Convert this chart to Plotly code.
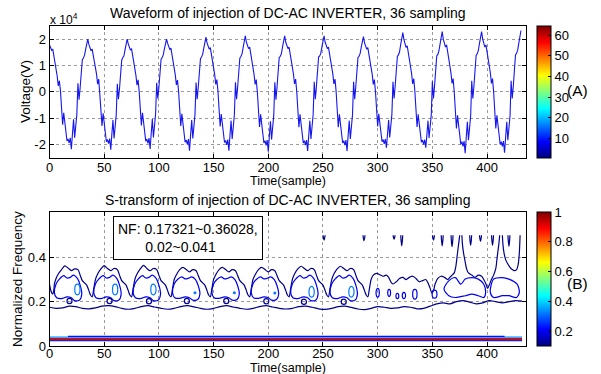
import numpy as np
import plotly.graph_objects as go
from plotly.colors import sample_colorscale

W, H = 601, 374
def px(x): return x / W
def py(y): return (H - y) / H

# ---------------- data: waveform (values in units of 1e4 V), 12 cycles x 36 samples
CYCLES = [
 [1.78,1.68,1.58,1.62,1.40,1.18,0.95,0.60,0.22,0.42,0.05,-0.55,-1.25,-0.80,-1.10,-1.60,-1.87,-1.80,-1.95,-1.75,-2.19,-1.60,-1.05,-1.75,-1.22,-0.85,0.32,-0.30,0.15,0.80,1.22,1.28,1.38,1.60,1.75,2.00],
 [1.80,1.66,1.56,1.62,1.38,1.17,0.98,0.67,0.29,0.48,-0.10,-0.60,-1.30,-0.82,-1.12,-1.62,-1.90,-1.82,-1.97,-1.78,-2.20,-1.62,-1.08,-1.78,-1.25,-0.88,0.30,-0.28,0.12,0.78,1.20,1.30,1.36,1.58,1.78,2.00],
 [1.82,1.70,1.58,1.64,1.40,1.18,0.96,0.62,0.25,0.45,0.00,-0.58,-1.28,-0.80,-1.10,-1.60,-1.88,-1.80,-1.96,-1.76,-2.18,-1.58,-1.04,-1.74,-1.20,-0.84,0.34,-0.26,0.16,0.82,1.24,1.30,1.40,1.62,1.80,2.00],
 [1.84,1.70,1.60,1.66,1.42,1.20,0.98,0.64,0.26,0.44,0.02,-0.60,-1.30,-0.84,-1.14,-1.64,-1.92,-1.84,-2.00,-1.80,-2.24,-1.64,-1.08,-1.78,-1.24,-0.86,0.35,-0.28,0.18,0.84,1.26,1.32,1.42,1.65,1.85,2.08],
 [1.86,1.72,1.62,1.68,1.44,1.22,1.00,0.66,0.28,0.46,0.02,-0.62,-1.32,-0.85,-1.15,-1.65,-1.93,-1.85,-2.02,-1.82,-2.24,-1.66,-1.10,-1.80,-1.26,-0.88,0.36,-0.28,0.18,0.85,1.28,1.34,1.44,1.68,1.88,2.13],
 [1.88,1.74,1.64,1.70,1.45,1.22,1.00,0.66,0.28,0.46,0.00,-0.64,-1.34,-0.86,-1.16,-1.66,-1.95,-1.86,-2.04,-1.84,-2.28,-1.68,-1.12,-1.82,-1.28,-0.90,0.36,-0.30,0.18,0.86,1.30,1.35,1.45,1.70,1.90,2.13],
 [1.88,1.74,1.64,1.70,1.46,1.24,1.02,0.68,0.30,0.48,0.02,-0.64,-1.35,-0.86,-1.16,-1.66,-1.95,-1.86,-2.03,-1.84,-2.25,-1.66,-1.10,-1.80,-1.26,-0.88,0.38,-0.28,0.20,0.88,1.32,1.36,1.46,1.70,1.90,2.13],
 [1.88,1.74,1.64,1.70,1.46,1.24,1.02,0.68,0.30,0.48,0.02,-0.64,-1.35,-0.86,-1.16,-1.66,-1.95,-1.86,-2.03,-1.84,-2.25,-1.66,-1.10,-1.80,-1.26,-0.88,0.38,-0.28,0.20,0.88,1.30,1.35,1.46,1.70,1.88,2.10],
 [1.86,1.72,1.62,1.68,1.44,1.22,1.00,0.66,0.28,0.46,0.00,-0.62,-1.32,-0.84,-1.14,-1.62,-1.90,-1.82,-1.98,-1.80,-2.13,-1.62,-1.08,-1.74,-1.22,-0.86,0.38,-0.26,0.22,0.90,1.34,1.40,1.52,1.78,1.98,2.25],
 [1.98,1.80,1.68,1.75,1.50,1.26,1.04,0.70,0.30,0.50,0.02,-0.62,-1.34,-0.86,-1.16,-1.64,-1.92,-1.84,-2.00,-1.82,-2.13,-1.64,-1.10,-1.76,-1.24,-0.88,0.40,-0.26,0.22,0.92,1.36,1.42,1.55,1.80,2.02,2.29],
 [2.00,1.82,1.70,1.78,1.52,1.28,1.05,0.72,0.32,0.50,0.00,-0.66,-1.40,-0.90,-1.20,-1.70,-2.00,-1.90,-2.08,-1.88,-2.34,-1.72,-1.14,-1.84,-1.30,-0.92,0.42,-0.26,0.22,0.92,1.38,1.44,1.56,1.82,2.04,2.29],
 [2.00,1.82,1.70,1.78,1.52,1.28,1.05,0.72,0.32,0.50,0.00,-0.66,-1.40,-0.90,-1.20,-1.70,-2.00,-1.90,-2.08,-1.88,-2.32,-1.72,-1.14,-1.84,-1.30,-0.92,0.42,-0.26,0.22,0.94,1.40,1.46,1.58,1.84,2.06,2.33],
]
VOLT = [v for c in CYCLES for v in c]
SAMPLES = list(range(len(VOLT)))

X_TICKS = [0, 50, 100, 150, 200, 250, 300, 350, 400]
Y1_TICKS = [-2, -1, 0, 1, 2]
Y1_TEXT = ["-2", "-1", "0", "1", "2"]
Y2_TICKS = [0, 0.2, 0.4]
Y2_TEXT = ["0", "0.2", "0.4"]
CB_A_TICKS = [10, 20, 30, 40, 50, 60]
CB_B_TICKS = [0.2, 0.4, 0.6, 0.8, 1.0]
CB_B_TEXT = ["0.2", "0.4", "0.6", "0.8", "1"]

# ---------------- data: S-transform contour lines (sample, normalized frequency)
LEVEL_OUTER, LEVEL_MID, LEVEL_INNER = 0.11, 0.20, 0.32

OUTER_UPPER = [
 (0,0.28),(1,0.255),(2,0.24),(3,0.235),(4,0.255),(4.5,0.28),(6,0.305),(8,0.325),(11,0.345),(14,0.362),(17,0.352),(20,0.34),(23,0.348),(26,0.345),(28,0.32),(30,0.295),(32,0.285),(34,0.275),(36,0.25),(37.5,0.23),
 (39,0.222),(40.5,0.26),(42,0.30),(44,0.325),(47,0.348),(50,0.363),(53,0.35),(56,0.34),(59,0.35),(62,0.345),(64,0.32),(66,0.295),(68,0.285),(70,0.275),(72,0.25),(73.5,0.23),
 (75,0.222),(76.5,0.26),(78,0.30),(80,0.325),(83,0.348),(86,0.364),(89,0.35),(92,0.34),(95,0.35),(98,0.345),(100,0.32),(102,0.295),(104,0.285),(106,0.275),(108,0.25),(109.5,0.23),
 (111,0.222),(112.5,0.26),(114,0.30),(116,0.322),(119,0.345),(122,0.355),(125,0.345),(128,0.335),(131,0.345),(134,0.34),(136,0.318),(138,0.295),(140,0.285),(142,0.275),(144,0.25),(145.5,0.23),
 (147,0.222),(148.5,0.26),(150,0.30),(152,0.322),(155,0.345),(158,0.355),(161,0.345),(164,0.335),(167,0.345),(170,0.34),(172,0.318),(174,0.295),(176,0.285),(178,0.275),(180,0.25),(181.5,0.23),
 (183,0.222),(184.5,0.26),(186,0.30),(188,0.322),(191,0.345),(194,0.355),(197,0.345),(200,0.335),(203,0.345),(206,0.34),(208,0.318),(210,0.295),(212,0.285),(214,0.275),(216,0.25),(217.5,0.23),
 (219,0.222),(220.5,0.26),(222,0.30),(224,0.325),(227,0.348),(230,0.36),(233,0.35),(236,0.34),(239,0.35),(242,0.345),(244,0.32),(246,0.295),(248,0.285),(250,0.275),(252,0.25),(253.5,0.23),
 (255,0.222),(256.5,0.26),(258,0.30),(260,0.325),(263,0.348),(266,0.36),(269,0.35),(272,0.34),(275,0.35),(278,0.345),(280,0.32),(282,0.295),(284,0.285),(286,0.275),(288,0.25),(289.5,0.23),
 (291,0.222),(292.5,0.26),(294,0.30),(296,0.32),(299,0.328),(302,0.322),(305,0.315),(308,0.32),(310,0.31),(312,0.29),(314,0.28),(317,0.29),(320,0.305),(323,0.31),(326,0.30),
 (329,0.31),(332,0.315),(335,0.305),(338,0.29),(341,0.295),(344,0.30),(346,0.285),(348,0.26),(349.5,0.24),(351,0.25),(352.5,0.28),(355,0.305),(358,0.315),(361,0.31),(364,0.30),
 (366,0.31),(368,0.32),(370,0.33),(371.5,0.36),(372.5,0.40),(373.5,0.44),(374.5,0.48),(375,0.50),(None,None),
 (377,0.50),(377.5,0.46),(378.5,0.42),(380,0.38),(381.5,0.345),(383,0.33),(386,0.32),(389,0.31),(392,0.32),(395,0.315),(397,0.30),(399,0.28),(400.5,0.26),(402,0.275),(404,0.30),(406,0.32),
 (408,0.35),(409,0.39),(410,0.43),(411,0.47),(411.5,0.50),(None,None),
 (414,0.50),(414.5,0.46),(415.5,0.42),(417,0.39),(419,0.37),(421,0.355),(423,0.345),(425,0.34),(427,0.345),(428.5,0.37),(429.5,0.42),(430.2,0.50),
]

OUTER_LOWER = [
 (0,0.175),(6,0.17),(12,0.172),(18,0.18),(24,0.178),(30,0.17),(36,0.168),(42,0.172),(48,0.18),(54,0.182),(60,0.178),(66,0.17),(72,0.166),(78,0.17),(84,0.178),(90,0.182),(96,0.176),(102,0.17),(108,0.166),(114,0.17),(120,0.178),(126,0.182),(132,0.177),(138,0.17),(144,0.166),(150,0.17),(156,0.178),(162,0.182),(168,0.176),(174,0.17),(180,0.166),(186,0.17),(192,0.178),(198,0.182),(204,0.176),(210,0.17),(216,0.167),(222,0.17),(228,0.178),(234,0.18),(240,0.175),(246,0.168),(252,0.165),(258,0.17),(264,0.178),(270,0.18),(276,0.174),(282,0.167),(288,0.164),(294,0.17),(300,0.178),(306,0.175),(312,0.17),(318,0.172),(324,0.178),(330,0.175),(336,0.168),(342,0.17),(348,0.18),(354,0.19),(360,0.195),(366,0.19),(372,0.20),(378,0.205),(384,0.198),(390,0.19),(396,0.195),(402,0.205),(408,0.20),(414,0.195),(420,0.20),(426,0.205),(432,0.203),
]

MID_LOOPS = [
 [(4.5,0.24),(6,0.28),(9,0.302),(13,0.318),(16,0.307),(19,0.31),(22,0.32),(25.5,0.305),(28,0.275),(29.5,0.235),(27.5,0.208),(23,0.205),(20,0.218),(16,0.222),(11,0.214),(6.5,0.218),(4.5,0.24)],
 [(40.5,0.24),(42,0.28),(45,0.302),(49,0.318),(52,0.307),(55,0.31),(58,0.32),(61.5,0.305),(64,0.275),(65.5,0.235),(63.5,0.208),(59,0.205),(56,0.218),(52,0.222),(47,0.214),(42.5,0.218),(40.5,0.24)],
 [(76.5,0.24),(78,0.28),(81,0.302),(85,0.318),(88,0.307),(91,0.31),(94,0.32),(97.5,0.305),(100,0.275),(101.5,0.235),(99.5,0.208),(95,0.205),(92,0.218),(88,0.222),(83,0.214),(78.5,0.218),(76.5,0.24)],
 [(112.5,0.24),(114,0.28),(117,0.30),(121,0.312),(124,0.303),(127,0.306),(130,0.312),(133.5,0.30),(136,0.272),(137.5,0.235),(135.5,0.21),(131,0.207),(128,0.218),(124,0.222),(119,0.215),(114.5,0.218),(112.5,0.24)],
 [(148.5,0.24),(150,0.28),(153,0.30),(157,0.312),(160,0.303),(163,0.306),(166,0.312),(169.5,0.30),(172,0.272),(173.5,0.235),(171.5,0.21),(167,0.207),(164,0.218),(160,0.222),(155,0.215),(150.5,0.218),(148.5,0.24)],
 [(184.5,0.24),(186,0.28),(189,0.30),(193,0.312),(196,0.303),(199,0.306),(202,0.312),(205.5,0.30),(208,0.272),(209.5,0.235),(207.5,0.21),(203,0.207),(200,0.218),(196,0.222),(191,0.215),(186.5,0.218),(184.5,0.24)],
 [(220.5,0.24),(222,0.28),(225,0.302),(229,0.318),(232,0.307),(235,0.31),(238,0.32),(241.5,0.305),(244,0.275),(245.5,0.235),(243.5,0.208),(239,0.205),(236,0.218),(232,0.222),(227,0.214),(222.5,0.218),(220.5,0.24)],
 [(256.5,0.24),(258,0.28),(261,0.302),(265,0.318),(268,0.307),(271,0.31),(274,0.32),(277.5,0.305),(280,0.275),(281.5,0.235),(279.5,0.208),(275,0.205),(272,0.218),(268,0.222),(263,0.214),(258.5,0.218),(256.5,0.24)],
 [(360.6,0.257),(365,0.294),(371,0.309),(376,0.279),(380,0.302),(386,0.309),(392,0.302),(397,0.279),(398.7,0.242),(397,0.219),(392,0.227),(386,0.234),(380,0.227),(371,0.219),(365,0.227),(360.6,0.257)],
 [(403,0.242),(406,0.302),(414,0.309),(420,0.302),(427.5,0.279),(429.5,0.242),(427,0.219),(420,0.227),(414,0.227),(406,0.219),(403,0.242)],
]

# small closed loops: centre sample, centre frequency, half extent (samples), half extent (freq)
HOLE_S = [18.3, 54.9, 90.9, 125.6, 161.6, 198.2, 232.6, 269.0]
HOLE_F = [0.203, 0.203, 0.202, 0.203, 0.203, 0.202, 0.200, 0.200]
HOLE_HS, HOLE_HF = 2.3, 0.012
INNER_S = [25.5, 60.0, 95.0, 239.6, 276.0]
INNER_F = [0.255, 0.255, 0.255, 0.245, 0.245]
INNER_HS, INNER_HF = 2.4, 0.024
DOT_S = [133, 169, 206]
DOT_F = [0.240, 0.240, 0.239]
LOOP8_S = [300.0, 310.5, 318.0, 324.0, 334.0, 352.0]
LOOP8_F = [0.240, 0.240, 0.226, 0.228, 0.234, 0.234]
LOOP8_HS = [1.5, 1.3, 1.3, 1.5, 2.0, 2.2]
LOOP8_HF = [0.020, 0.016, 0.012, 0.014, 0.022, 0.018]

# hanging "U" contours under the Nyquist edge (0.5)
FINGER_S = [251, 287.5, 315, 322, 351, 359, 368, 385, 394, 405, 420]
FINGER_BOTTOM = [0.478, 0.475, 0.482, 0.452, 0.478, 0.452, 0.448, 0.455, 0.472, 0.455, 0.45]
FINGER_TOP = 0.5

# low-frequency (fundamental) band lines
BAND_F = [0.0235, 0.027, 0.031, 0.034, 0.040, 0.0435]
BAND_LEVEL = [0.13, 0.2, 1.0, 0.9, 0.33, 0.22]
BAND_S0 = [0, 0, 0, 0, 0, 17]
BAND_S1 = [432, 432, 432, 432, 432, 416]

JET = [[0, '#00007f'], [0.125, '#0000ff'], [0.375, '#00ffff'],
       [0.625, '#ffff00'], [0.875, '#ff0000'], [1, '#7f0000']]
B_MIN, B_MAX = 0.1, 1.0
def level_color(lv):
    return sample_colorscale(JET, [(lv - B_MIN) / (B_MAX - B_MIN)])[0]

FONT = "Arial, Liberation Sans, sans-serif"

fig = go.Figure()

# top waveform
fig.add_trace(go.Scatter(x=SAMPLES, y=VOLT, mode='lines', xaxis='x', yaxis='y',
                         line=dict(color='#1515ee', width=1.1), showlegend=False, hoverinfo='skip'))
# colorbar A (dummy)
fig.add_trace(go.Scatter(x=[None], y=[None], mode='markers', xaxis='x', yaxis='y', showlegend=False,
    marker=dict(color=[1], colorscale=JET, cmin=0.5, cmax=64.5, showscale=True,
                colorbar=dict(x=px(537), xanchor='left', xref='paper', xpad=0, ypad=0,
                              y=py(92), yanchor='middle', len=132, lenmode='pixels',
                              thickness=14, thicknessmode='pixels', outlinewidth=1, outlinecolor='black',
                              tickvals=CB_A_TICKS, ticks='inside', ticklen=3, tickcolor='black',
                              tickfont=dict(family=FONT, size=13, color='black'))),
    hoverinfo='skip'))
# colorbar B (dummy)
fig.add_trace(go.Scatter(x=[None], y=[None], mode='markers', xaxis='x2', yaxis='y2', showlegend=False,
    marker=dict(color=[0.5], colorscale=JET, cmin=B_MIN, cmax=B_MAX, showscale=True,
                colorbar=dict(x=px(537), xanchor='left', xref='paper', xpad=0, ypad=0,
                              y=py(279), yanchor='middle', len=134, lenmode='pixels',
                              thickness=14, thicknessmode='pixels', outlinewidth=1, outlinecolor='black',
                              tickvals=CB_B_TICKS, ticktext=CB_B_TEXT, ticks='inside', ticklen=3, tickcolor='black',
                              tickfont=dict(family=FONT, size=13, color='black'))),
    hoverinfo='skip'))

def add_path(points, color, width=1.2):
    xs = [p[0] for p in points]
    ys = [p[1] for p in points]
    fig.add_trace(go.Scatter(x=xs, y=ys, mode='lines', xaxis='x2', yaxis='y2', showlegend=False,
                             hoverinfo='skip', connectgaps=False,
                             line=dict(color=color, width=width, shape='spline', smoothing=0.8)))

c_outer = level_color(LEVEL_OUTER)
c_mid = level_color(LEVEL_MID)
c_inner = level_color(LEVEL_INNER)

for f, lv, s0, s1 in zip(BAND_F, BAND_LEVEL, BAND_S0, BAND_S1):
    fig.add_trace(go.Scatter(x=[s0, s1], y=[f, f], mode='lines', xaxis='x2', yaxis='y2', showlegend=False,
                             hoverinfo='skip', line=dict(color=level_color(lv), width=1.1)))

add_path(OUTER_UPPER, c_outer)
add_path(OUTER_LOWER, c_outer)
for loop in MID_LOOPS:
    add_path(loop, c_mid)
for s, bot in zip(FINGER_S, FINGER_BOTTOM):
    add_path([(s - 0.9, FINGER_TOP), (s - 0.6, (FINGER_TOP + bot) / 2), (s, bot),
              (s + 0.6, (FINGER_TOP + bot) / 2), (s + 0.9, FINGER_TOP)], c_outer)

shapes = []
def ellipse(s, f, hs, hf, color):
    shapes.append(dict(type='circle', xref='x2', yref='y2', x0=s - hs, x1=s + hs, y0=f - hf, y1=f + hf,
                       line=dict(color=color, width=1.2)))
for s, f in zip(HOLE_S, HOLE_F):
    ellipse(s, f, HOLE_HS, HOLE_HF, c_outer)
for s, f in zip(INNER_S, INNER_F):
    ellipse(s, f, INNER_HS, INNER_HF, c_inner)
for s, f, hs, hf in zip(LOOP8_S, LOOP8_F, LOOP8_HS, LOOP8_HF):
    ellipse(s, f, hs, hf, c_mid)

fig.add_trace(go.Scatter(x=DOT_S, y=DOT_F, mode='markers', xaxis='x2', yaxis='y2', showlegend=False,
                         hoverinfo='skip', marker=dict(color=c_inner, size=3)))

axis_common = dict(showline=True, linecolor='black', linewidth=1, mirror='allticks',
                   ticks='inside', ticklen=4, tickcolor='black',
                   showgrid=True, gridcolor='#9a9a9a', griddash='dot', gridwidth=1,
                   zeroline=False, automargin=False, tickfont=dict(family=FONT, size=13, color='black'))

fig.update_layout(
    width=W, height=H, margin=dict(l=0, r=0, t=0, b=0, autoexpand=False),
    paper_bgcolor='white', plot_bgcolor='white', showlegend=False,
    xaxis=dict(domain=[px(49.5), px(526)], range=[0, 435.6], tickvals=X_TICKS, anchor='y',
               ticklabelstandoff=-3, **axis_common),
    yaxis=dict(domain=[py(158), py(26)], range=[-2.52, 2.5], tickvals=Y1_TICKS, ticktext=Y1_TEXT,
               anchor='x', **axis_common),
    xaxis2=dict(domain=[px(49.5), px(526)], range=[0, 435.6], tickvals=X_TICKS, anchor='y2',
                ticklabelstandoff=-5, **axis_common),
    yaxis2=dict(domain=[py(346), py(212)], range=[0, 0.605], tickvals=Y2_TICKS, ticktext=Y2_TEXT,
                anchor='x2', **axis_common),
    shapes=shapes,
)

def note(text, x, y, size=13.5, angle=0, xanchor='center', yanchor='middle', **kw):
    fig.add_annotation(text=text, x=px(x), y=py(y), xref='paper', yref='paper', showarrow=False,
                       textangle=angle, xanchor=xanchor, yanchor=yanchor,
                       font=dict(family=FONT, size=size, color='black'), **kw)

note("Waveform of injection of DC-AC INVERTER, 36 sampling", 287.5, 13, size=14)
note("S-transform of injection of DC-AC INVERTER, 36 sampling", 287.5, 200, size=14)
note("x 10<sup>4</sup>", 48, 19, size=12, xanchor='left')
note("Voltage(V)", 25, 92, angle=-90)
note("Normalized Frequency", 17, 279, angle=-90)
note("Time(sample)", 287.5, 180.5, size=12.5)
note("Time(sample)", 287.5, 367.5, size=12.5)
note("(A)", 577, 91, size=15.5)
note("(B)", 577, 283, size=15.5)
note("NF: 0.17321~0.36028,<br>" + "\u00a0" * 7 + "0.02~0.041", 188, 237.5, size=14,
     align='left', bordercolor='black', borderwidth=1, bgcolor='white', borderpad=4)

fig.write_html("out.html")
